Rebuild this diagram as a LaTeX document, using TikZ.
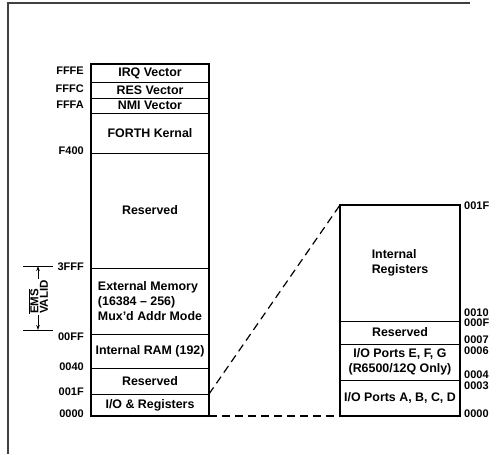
\documentclass[tikz,border=0pt]{standalone}
\usepackage{fontspec}
\setmainfont{Liberation Sans}
\usetikzlibrary{positioning,arrows.meta}
\tikzset{
  cell/.style={draw, line width=0.8pt, outer sep=0pt, inner sep=1pt, align=center,
    font=\bfseries\fontsize{12.4}{15}\selectfont},
  addr/.style={inner sep=0pt, font=\bfseries\fontsize{11}{13}\selectfont},
  outline/.style={line width=2pt},
  zoomline/.style={line width=1.2pt, dash pattern=on 8pt off 5pt},
  tick/.style={line width=1pt}
}
\begin{document}
\begin{tikzpicture}[x=1pt,y=-1pt]
\useasboundingbox (0,0) rectangle (502,454);
\draw[line width=1.2pt, black!75] (470,3) -- (8,3) -- (8,454);
% full memory map
\node[cell, minimum width=118, minimum height=18] (irq) at (150,73) {IRQ Vector};
\node[cell, minimum width=118, minimum height=16, below=0pt of irq] (res) {RES Vector};
\node[cell, minimum width=118, minimum height=15, below=0pt of res] (nmi) {NMI Vector};
\node[cell, minimum width=118, minimum height=40, below=0pt of nmi] (forth) {FORTH Kernal};
\node[cell, minimum width=118, minimum height=115, below=0pt of forth] (rsvhi) {Reserved};
\node[cell, minimum width=118, minimum height=66, below=0pt of rsvhi, align=left] (extmem) {External Memory\\(16384 -- 256)\\Mux'd Addr Mode};
\node[cell, minimum width=118, minimum height=34, below=0pt of extmem] (iram) {Internal RAM (192)};
\node[cell, minimum width=118, minimum height=26, below=0pt of iram] (rsvlo) {Reserved};
\node[cell, minimum width=118, minimum height=22, below=0pt of rsvlo] (iox) {I/O \& Registers};
\draw[outline] (irq.north west) rectangle (iox.south east);
\node[addr, anchor=east] (aFFFE) at (84,71) {FFFE};
\node[addr, anchor=east] (aFFFC) at (84,89) {FFFC};
\node[addr, anchor=east] (aFFFA) at (84,105) {FFFA};
\node[addr, anchor=east] (aF400) at (84,151) {F400};
\node[addr, anchor=east] (a3FFF) at (84,267) {3FFF};
\node[addr, anchor=east] (a00FF) at (84,337) {00FF};
\node[addr, anchor=east] (a0040) at (84,367) {0040};
\node[addr, anchor=east] (a001F) at (84,392) {001F};
\node[addr, anchor=east] (a0000) at (84,414) {0000};
% EMS valid range
\draw[tick] (23,266) -- (53,266);
\draw[tick] (23,330) -- (53,330);
\coordinate (emsT) at (38,266);
\coordinate (emsB) at (38,330);
\node[addr, rotate=90, align=left, inner sep=1pt, font=\bfseries\fontsize{11.5}{9.5}\selectfont] (ems) at (38,297) {$\overline{\mbox{EMS}}$\\VALID};
\draw[tick, -{Stealth[length=5pt,width=3.5pt]}] (ems.east) -- (emsT);
\draw[tick, -{Stealth[length=5pt,width=3.5pt]}] (ems.west) -- (emsB);
% register page
\node[cell, minimum width=120, minimum height=116, align=left] (ireg) at (400,263) {Internal\\Registers};
\node[cell, minimum width=120, minimum height=23, below=0pt of ireg] (rsvreg) {Reserved};
\node[cell, minimum width=120, minimum height=36, below=0pt of rsvreg] (portefg) {I/O Ports E, F, G\\(R6500/12Q Only)};
\node[cell, minimum width=120, minimum height=36, below=0pt of portefg] (portabcd) {I/O Ports A, B, C, D};
\draw[outline] (ireg.north west) rectangle (portabcd.south east);
\node[addr, anchor=west] (r001F) at (464,206) {001F};
\node[addr, anchor=west] (r0010) at (464,313) {0010};
\node[addr, anchor=west] (r000F) at (464,323) {000F};
\node[addr, anchor=west] (r0007) at (464,340) {0007};
\node[addr, anchor=west] (r0006) at (464,351) {0006};
\node[addr, anchor=west] (r0004) at (464,375) {0004};
\node[addr, anchor=west] (r0003) at (464,386) {0003};
\node[addr, anchor=west] (r0000) at (464,414) {0000};
\draw[zoomline] (iox.north east) -- (ireg.north west);
\draw[zoomline] (iox.south east) -- (portabcd.south west);
\end{tikzpicture}
\end{document}
